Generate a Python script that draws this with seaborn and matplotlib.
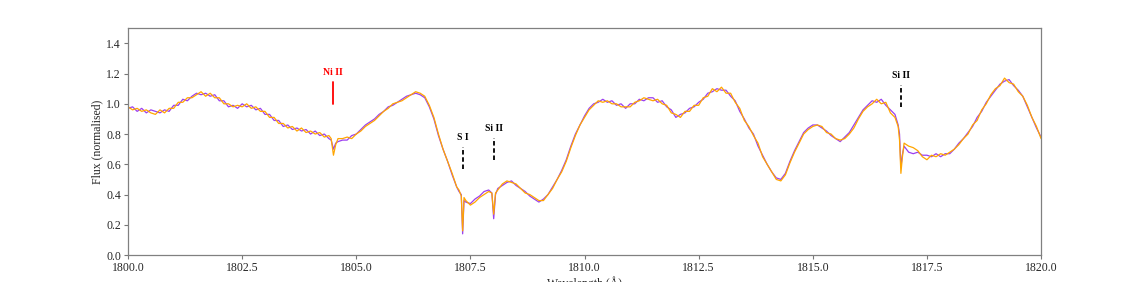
import seaborn as sns
import matplotlib.pyplot as plt
import pandas as pd

# wavelength grid (Angstrom)
wave = [1800.0, 1800.1, 1800.2, 1800.3, 1800.4, 1800.5, 1800.6, 1800.7, 1800.8, 1800.9,
        1801.0, 1801.1, 1801.2, 1801.3, 1801.4, 1801.5, 1801.6, 1801.7, 1801.8, 1801.9,
        1802.0, 1802.1, 1802.2, 1802.3, 1802.4, 1802.5, 1802.6, 1802.7, 1802.8, 1802.9,
        1803.0, 1803.1, 1803.2, 1803.3, 1803.4, 1803.5, 1803.6, 1803.7, 1803.8, 1803.9,
        1804.0, 1804.1, 1804.2, 1804.3, 1804.4, 1804.45, 1804.5, 1804.55, 1804.6, 1804.7,
        1804.8, 1804.9, 1805.0, 1805.1, 1805.2, 1805.3, 1805.4, 1805.5, 1805.6, 1805.7,
        1805.8, 1805.9, 1806.0, 1806.1, 1806.2, 1806.3, 1806.4, 1806.5, 1806.6, 1806.7,
        1806.8, 1806.9, 1807.0, 1807.1, 1807.2, 1807.25, 1807.3, 1807.33, 1807.36, 1807.4,
        1807.5, 1807.6, 1807.7, 1807.8, 1807.9, 1807.97, 1808.01, 1808.05, 1808.1, 1808.2,
        1808.3, 1808.4, 1808.5, 1808.6, 1808.7, 1808.8, 1808.9, 1809.0, 1809.1, 1809.2,
        1809.3, 1809.4, 1809.5, 1809.6, 1809.7, 1809.8, 1809.9, 1810.0, 1810.1, 1810.2,
        1810.3, 1810.4, 1810.5, 1810.6, 1810.7, 1810.8, 1810.9, 1811.0, 1811.1, 1811.2,
        1811.3, 1811.4, 1811.5, 1811.6, 1811.7, 1811.8, 1811.9, 1812.0, 1812.1, 1812.2,
        1812.3, 1812.4, 1812.5, 1812.6, 1812.7, 1812.8, 1812.9, 1813.0, 1813.1, 1813.2,
        1813.3, 1813.4, 1813.5, 1813.6, 1813.7, 1813.8, 1813.9, 1814.0, 1814.1, 1814.2,
        1814.3, 1814.4, 1814.5, 1814.6, 1814.7, 1814.8, 1814.9, 1815.0, 1815.1, 1815.2,
        1815.3, 1815.4, 1815.5, 1815.6, 1815.7, 1815.8, 1815.9, 1816.0, 1816.1, 1816.2,
        1816.3, 1816.4, 1816.5, 1816.6, 1816.7, 1816.8, 1816.87, 1816.9, 1816.93, 1816.96,
        1817.0, 1817.1, 1817.2, 1817.3, 1817.4, 1817.5, 1817.6, 1817.7, 1817.8, 1817.9,
        1818.0, 1818.1, 1818.2, 1818.3, 1818.4, 1818.5, 1818.6, 1818.7, 1818.8, 1818.9,
        1819.0, 1819.1, 1819.2, 1819.3, 1819.4, 1819.5, 1819.6, 1819.7, 1819.8, 1819.9,
        1820.0]

# purple spectrum
flux_purple = [0.97, 0.98, 0.95, 0.97, 0.94, 0.96, 0.95, 0.94, 0.96, 0.95,
               0.99, 0.99, 1.03, 1.02, 1.05, 1.07, 1.06, 1.07, 1.05, 1.06,
               1.02, 1.02, 0.98, 0.99, 0.97, 1.00, 0.98, 0.99, 0.96, 0.97,
               0.93, 0.93, 0.89, 0.89, 0.85, 0.86, 0.83, 0.84, 0.82, 0.83,
               0.80, 0.82, 0.79, 0.80, 0.77, 0.76, 0.70, 0.74, 0.75, 0.76,
               0.76, 0.79, 0.80, 0.83, 0.86, 0.88, 0.90, 0.93, 0.95, 0.98,
               0.99, 1.01, 1.03, 1.05, 1.06, 1.07, 1.06, 1.04, 0.98, 0.90,
               0.79, 0.70, 0.62, 0.53, 0.45, 0.42, 0.40, 0.14, 0.36, 0.35,
               0.34, 0.37, 0.39, 0.42, 0.43, 0.41, 0.24, 0.40, 0.44, 0.46,
               0.48, 0.49, 0.46, 0.44, 0.42, 0.39, 0.37, 0.35, 0.37, 0.40,
               0.45, 0.50, 0.56, 0.63, 0.72, 0.80, 0.86, 0.92, 0.97, 1.00,
               1.01, 1.03, 1.01, 1.02, 0.99, 1.00, 0.97, 1.00, 1.00, 1.03,
               1.02, 1.04, 1.04, 1.01, 1.02, 0.98, 0.96, 0.91, 0.93, 0.94,
               0.97, 0.98, 1.01, 1.03, 1.07, 1.08, 1.10, 1.09, 1.09, 1.05,
               1.02, 0.95, 0.90, 0.84, 0.80, 0.72, 0.66, 0.60, 0.55, 0.51,
               0.50, 0.54, 0.62, 0.69, 0.75, 0.81, 0.84, 0.86, 0.86, 0.84,
               0.82, 0.79, 0.77, 0.75, 0.78, 0.81, 0.86, 0.91, 0.96, 0.99,
               1.02, 1.01, 1.03, 0.99, 0.96, 0.93, 0.86, 0.80, 0.58, 0.66,
               0.72, 0.68, 0.67, 0.68, 0.66, 0.66, 0.65, 0.67, 0.65, 0.67,
               0.67, 0.70, 0.74, 0.77, 0.81, 0.85, 0.91, 0.95, 1.01, 1.05,
               1.09, 1.13, 1.15, 1.16, 1.12, 1.09, 1.05, 0.98, 0.91, 0.84,
               0.78]

# orange spectrum
flux_orange = [0.98, 0.96, 0.97, 0.95, 0.96, 0.94, 0.93, 0.96, 0.94, 0.97,
               0.97, 1.01, 1.01, 1.04, 1.04, 1.06, 1.08, 1.05, 1.07, 1.04,
               1.04, 1.00, 1.00, 0.98, 0.99, 0.98, 1.00, 0.97, 0.98, 0.95,
               0.95, 0.91, 0.91, 0.87, 0.87, 0.84, 0.85, 0.82, 0.84, 0.81,
               0.82, 0.80, 0.81, 0.78, 0.79, 0.77, 0.66, 0.73, 0.77, 0.77,
               0.78, 0.77, 0.80, 0.82, 0.85, 0.87, 0.89, 0.92, 0.95, 0.97,
               1.00, 1.01, 1.02, 1.04, 1.06, 1.08, 1.07, 1.05, 0.99, 0.91,
               0.80, 0.70, 0.62, 0.54, 0.45, 0.43, 0.39, 0.16, 0.38, 0.36,
               0.33, 0.35, 0.38, 0.40, 0.42, 0.41, 0.27, 0.41, 0.43, 0.47,
               0.49, 0.48, 0.47, 0.44, 0.41, 0.40, 0.38, 0.36, 0.36, 0.40,
               0.44, 0.50, 0.55, 0.62, 0.71, 0.79, 0.86, 0.91, 0.96, 0.99,
               1.02, 1.01, 1.02, 1.00, 1.00, 0.98, 0.98, 0.98, 1.01, 1.02,
               1.04, 1.03, 1.02, 1.03, 1.00, 0.99, 0.94, 0.93, 0.91, 0.95,
               0.95, 0.99, 0.99, 1.04, 1.05, 1.10, 1.08, 1.11, 1.07, 1.07,
               1.01, 0.97, 0.89, 0.85, 0.79, 0.74, 0.65, 0.60, 0.55, 0.50,
               0.49, 0.53, 0.61, 0.68, 0.74, 0.80, 0.83, 0.85, 0.86, 0.85,
               0.81, 0.80, 0.77, 0.76, 0.77, 0.80, 0.84, 0.90, 0.95, 0.98,
               1.00, 1.03, 1.00, 1.01, 0.94, 0.91, 0.85, 0.76, 0.54, 0.64,
               0.74, 0.72, 0.71, 0.69, 0.65, 0.63, 0.66, 0.65, 0.67, 0.66,
               0.68, 0.70, 0.73, 0.77, 0.80, 0.86, 0.89, 0.96, 1.00, 1.06,
               1.10, 1.12, 1.17, 1.14, 1.13, 1.08, 1.05, 0.99, 0.91, 0.85,
               0.77]

# line identifications
line_names = ['Ni II', 'S I', 'Si II', 'Si II']
line_waves = [1804.49, 1807.33, 1808.02, 1816.93]
line_bottoms = [1.00, 0.57, 0.63, 0.98]
line_colors = ['red', 'black', 'black', 'black']
line_styles = ['-', '--', '--', '--']

sns.set_theme(style='ticks')
plt.rcParams['font.family'] = ['Liberation Serif', 'DejaVu Serif']

df = pd.concat([
    pd.DataFrame({'wave': wave, 'flux': flux_purple, 'spec': 'a'}),
    pd.DataFrame({'wave': wave, 'flux': flux_orange, 'spec': 'b'}),
])

fig = plt.figure(figsize=(11.4, 2.82), dpi=100)
ax = fig.add_axes([0.1123, 0.0957, 0.8009, 0.8043])

sns.lineplot(data=df, x='wave', y='flux', hue='spec',
             palette={'a': '#9b3ff0', 'b': '#ffa500'},
             linewidth=0.9, legend=False, ax=ax, estimator=None, sort=False)

for name, w, lo, c, ls in zip(line_names, line_waves, line_bottoms, line_colors, line_styles):
    if ls == '--':
        ax.plot([w, w], [lo, lo + 0.145], color=c, linewidth=1.3, dashes=(2.5, 1.5))
    else:
        ax.plot([w, w], [lo, lo + 0.145], color=c, linewidth=1.3)
    ax.text(w, lo + 0.175, name, color=c, fontsize=7, fontweight='bold',
            ha='center', va='bottom')

ax.set_xlim(1800, 1820)
ax.set_ylim(0, 1.5)
ax.set_xticks([1800.0, 1802.5, 1805.0, 1807.5, 1810.0, 1812.5, 1815.0, 1817.5, 1820.0])
ax.set_xticklabels(['1800.0', '1802.5', '1805.0', '1807.5', '1810.0',
                    '1812.5', '1815.0', '1817.5', '1820.0'])
ax.set_yticks([0.0, 0.2, 0.4, 0.6, 0.8, 1.0, 1.2, 1.4])
ax.tick_params(labelsize=8.5, length=3, width=0.8, color='#777777', pad=2)
for s in ax.spines.values():
    s.set_color('#808080')
    s.set_linewidth(0.9)
ax.set_xlabel('Wavelength (Å)', fontsize=8.5, labelpad=1.5)
ax.set_ylabel('Flux (normalised)', fontsize=8.5, labelpad=2)

plt.savefig('out.png', dpi=100)
